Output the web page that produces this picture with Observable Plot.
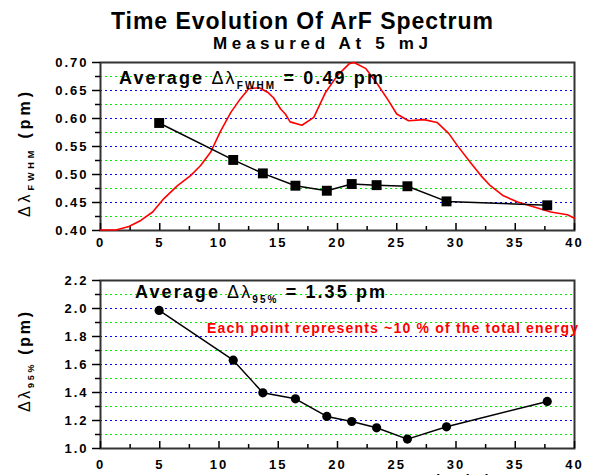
<!DOCTYPE html>
<html><head><meta charset="utf-8">
<script src="https://cdn.jsdelivr.net/npm/d3@7"></script>
<script src="https://cdn.jsdelivr.net/npm/@observablehq/plot@0.6"></script>
<style>
html,body{margin:0;padding:0;background:#fff;overflow:hidden}
#wrap{position:relative;width:593px;height:475px;overflow:hidden;font-family:"Liberation Sans",Arial,sans-serif}
#wrap > svg{position:absolute;left:0;margin:0;overflow:visible}
</style></head><body><div id="wrap"></div>
<script>
// ---------- data ----------
const titleText = "Time Evolution Of ArF Spectrum";
const subtitleText = "Measured At 5 mJ";
const xLabel = "Time (ns)";
const noteText = "Each point represents ~10 % of the total energy";
const fwhmAvgText = ["Average ", "\u0394\u03bb", "FWHM", " = 0.49 pm"];
const e95AvgText = ["Average ", "\u0394\u03bb", "95%", " = 1.35 pm"];
const fwhmYLabel = ["\u0394\u03bb", "FWHM", "  (pm)"];
const e95YLabel = ["\u0394\u03bb", "95%", "  (pm)"];

const sampleTime = [4.95, 11.2, 13.7, 16.45, 19.1, 21.2, 23.3, 25.9, 29.2, 37.7];
const fwhmValue = [0.592, 0.526, 0.502, 0.480, 0.471, 0.483, 0.481, 0.479, 0.452, 0.445];
const e95Value = [1.986, 1.631, 1.398, 1.355, 1.229, 1.193, 1.148, 1.067, 1.155, 1.336];

const pulseTime = [0, 1.3, 2.4, 3.4, 4.4, 5.35, 6.5, 7.6, 8.45, 9.3, 10.1, 11.0, 11.8, 12.5, 13.4, 14.1, 14.6, 15.2, 15.6, 16.0, 17.0, 18.0, 19.0, 20.0, 21.0, 21.4, 22.4, 23.35, 24.3, 25.0, 26.0, 27.3, 28.4, 29.4, 30.1, 31.2, 32.1, 32.9, 34.0, 35.2, 36.6, 38.0, 39.4, 40.0];
const pulseValue = [0.401, 0.401, 0.407, 0.418, 0.433, 0.457, 0.480, 0.498, 0.516, 0.540, 0.576, 0.611, 0.635, 0.653, 0.655, 0.647, 0.637, 0.617, 0.608, 0.594, 0.588, 0.602, 0.647, 0.677, 0.698, 0.700, 0.689, 0.662, 0.632, 0.608, 0.596, 0.598, 0.593, 0.573, 0.552, 0.522, 0.498, 0.480, 0.462, 0.451, 0.442, 0.433, 0.428, 0.422];

const xTicks = [0, 5, 10, 15, 20, 25, 30, 35, 40];
const xMinorTicks = [2.5, 7.5, 12.5, 17.5, 22.5, 27.5, 32.5, 37.5];
const fwhmTicks = [0.40, 0.45, 0.50, 0.55, 0.60, 0.65, 0.70];
const fwhmMinorTicks = [0.425, 0.475, 0.525, 0.575, 0.625, 0.675];
const e95Ticks = [1.0, 1.2, 1.4, 1.6, 1.8, 2.0, 2.2];
const e95MinorTicks = [1.1, 1.3, 1.5, 1.7, 1.9, 2.1];

// ---------- tables ----------
const fwhm = sampleTime.map((t, i) => ({t, v: fwhmValue[i]}));
const e95 = sampleTime.map((t, i) => ({t, v: e95Value[i]}));
const pulse = pulseTime.map((t, i) => ({t, v: pulseValue[i]}));

const FONT = '"Liberation Sans", Arial, sans-serif';
const BLUE = "#0000ff", GREEN = "#00ee00";

function panel(yDomain, major, minor, fmt, extraMarks, padBottom) {
  return Plot.plot({
    width: 593, height: 208,
    marginLeft: 100, marginRight: 19, marginTop: 10, marginBottom: 30,
    x: {domain: [0, 40]},
    y: {domain: yDomain},
    style: {fontFamily: FONT, background: "transparent", overflow: "visible", letterSpacing: "2px", color: "#000"},
    marks: [
      Plot.ruleY(minor, {stroke: GREEN, strokeDasharray: "2,3", strokeWidth: 1}),
      Plot.ruleY(major.slice(1, -1), {stroke: BLUE, strokeDasharray: "2,3", strokeWidth: 1}),
      Plot.frame({stroke: "#333", strokeWidth: 2}),
      Plot.axisX(xTicks, {tickSize: 7, dy: -7, fill: "none", strokeWidth: 1.5, label: null}),
      Plot.axisX(xMinorTicks, {tickSize: 4, dy: -4, fill: "none", strokeWidth: 1.5, label: null}),
      Plot.axisX(xTicks, {tickSize: 0, tickPadding: padBottom, fontSize: 13, fontWeight: "bold", tickFormat: d => String(d), label: null}),
      Plot.axisY(major, {tickSize: 8, fill: "none", strokeWidth: 1.5, label: null}),
      Plot.axisY(minor, {tickSize: 5, fill: "none", strokeWidth: 1.5, label: null}),
      Plot.axisY(major, {tickSize: 0, tickPadding: 12, fontSize: 13, fontWeight: "bold", tickFormat: fmt, label: null}),
      ...extraMarks
    ]
  });
}

const topPlot = panel([0.40, 0.70], fwhmTicks, fwhmMinorTicks, ".2f", [
  Plot.line(pulse, {x: "t", y: "v", stroke: "#ff0000", strokeWidth: 1.6}),
  Plot.line(fwhm, {x: "t", y: "v", stroke: "#000", strokeWidth: 1.5}),
  Plot.dot(fwhm, {x: "t", y: "v", symbol: "square", r: 5.6, fill: "#000"})
], 7);

const botPlot = panel([1.0, 2.2], e95Ticks, e95MinorTicks, ".1f", [
  Plot.line(e95, {x: "t", y: "v", stroke: "#000", strokeWidth: 1.5}),
  Plot.dot(e95, {x: "t", y: "v", symbol: "circle", r: 4.6, fill: "#000"})
], 11);

const wrap = document.getElementById("wrap");
topPlot.style.top = "52px";
botPlot.style.top = "270px";
wrap.appendChild(topPlot);
wrap.appendChild(botPlot);

// ---------- overlay texts ----------
const ov = d3.select(wrap).append("svg")
  .attr("width", 593).attr("height", 475)
  .style("top", "0px").style("font-family", FONT);

function plain(x, y, txt, size, len, fill) {
  ov.append("text").attr("x", x).attr("y", y)
    .attr("font-size", size).attr("font-weight", "bold").attr("fill", fill || "#000")
    .attr("textLength", len).attr("lengthAdjust", "spacing").text(txt);
}
plain(111, 29, titleText, 23, 382);
plain(213, 49, subtitleText, 17, 215);
plain(207, 333, noteText, 14, 371, "#ff0000");
plain(428, 485, xLabel, 14, 62);

function withSub(x, y, parts, size, subSize, subShift, len) {
  const t = ov.append("text").attr("x", x).attr("y", y).attr("font-size", size)
    .attr("font-weight", "bold").attr("textLength", len).attr("lengthAdjust", "spacing");
  t.append("tspan").text(parts[0]);
  t.append("tspan").attr("font-weight", "normal").text(parts[1]);
  t.append("tspan").attr("y", y + subShift).attr("font-size", subSize).text(parts[2]);
  t.append("tspan").attr("y", y).text(parts[3]);
}
withSub(119, 84, fwhmAvgText, 18, 10, 5, 264);
withSub(135, 298, e95AvgText, 18, 10, 5, 250);

function yLabel(cx, bottom, parts, len) {
  const g = ov.append("g").attr("transform", `translate(${cx},${bottom}) rotate(-90)`);
  const t = g.append("text").attr("x", 0).attr("y", 0).attr("font-size", 16)
    .attr("font-weight", "bold").attr("textLength", len).attr("lengthAdjust", "spacing");
  t.append("tspan").attr("font-weight", "normal").text(parts[0]);
  t.append("tspan").attr("y", 4).attr("font-size", 9).text(parts[1]);
  t.append("tspan").attr("y", 0).text(parts[2]);
}
yLabel(30, 217, fwhmYLabel, 125);
yLabel(30, 412, e95YLabel, 100);
</script></body></html>
